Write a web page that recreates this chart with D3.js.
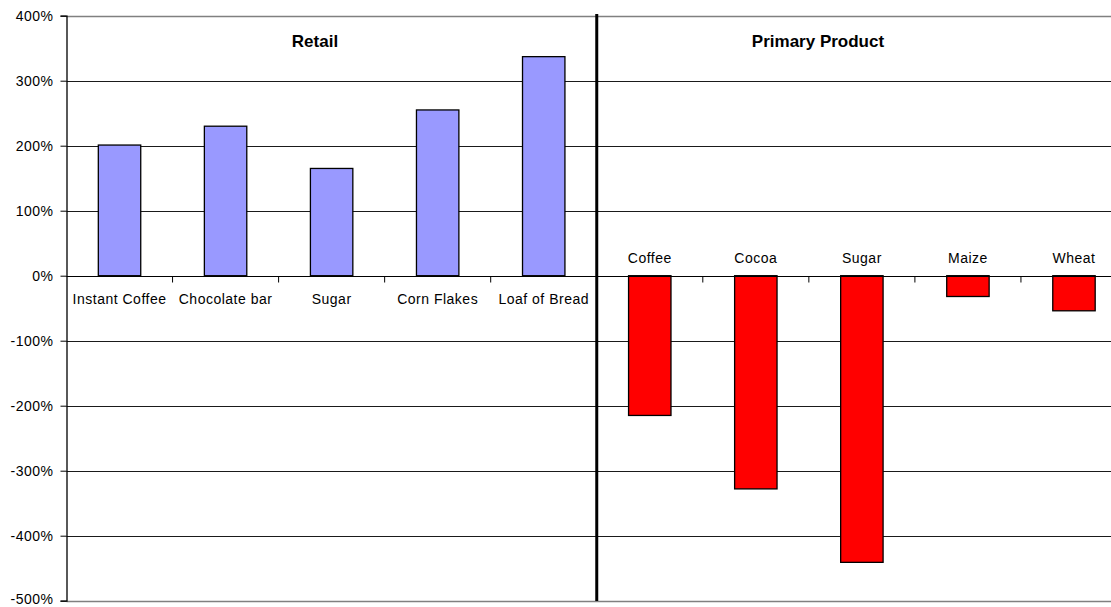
<!DOCTYPE html>
<html>
<head>
<meta charset="utf-8">
<script src="https://cdn.jsdelivr.net/npm/d3@7"></script>
<style>
  html, body { margin: 0; padding: 0; background: #fff; }
  svg { display: block; }
  text { font-family: "Liberation Sans", Arial, sans-serif; fill: #000; }
</style>
</head>
<body>
<svg id="chart" width="1111" height="607"></svg>
<script>
// ---- data ----
const retailCategories = ["Instant Coffee", "Chocolate bar", "Sugar", "Corn Flakes", "Loaf of Bread"];
const retailValues = [2.01, 2.30, 1.65, 2.55, 3.37];
const primaryCategories = ["Coffee", "Cocoa", "Sugar", "Maize", "Wheat"];
const primaryValues = [-2.15, -3.28, -4.41, -0.32, -0.54];
const groupTitles = ["Retail", "Primary Product"];
const yTicks = [4, 3, 2, 1, 0, -1, -2, -3, -4, -5];

// ---- build rows ----
const rows = [];
retailCategories.forEach((c, i) => rows.push({key: "r" + i, label: c, value: retailValues[i], group: 0}));
primaryCategories.forEach((c, i) => rows.push({key: "p" + i, label: c, value: primaryValues[i], group: 1}));

const svg = d3.select("#chart");
const x0 = 66.5, step = 106.05;
const x = d3.scaleBand()
  .domain(rows.map(d => d.key))
  .range([x0, x0 + step * rows.length])
  .paddingInner(0.6).paddingOuter(0.3);
const y = d3.scaleLinear().domain([-5, 4]).range([600.7, 15.7]);
const xRight = 1111;

// gridlines
svg.append("g").selectAll("line").data(yTicks).join("line")
  .attr("x1", x0).attr("x2", xRight)
  .attr("y1", d => Math.round(y(d)) + 0.5).attr("y2", d => Math.round(y(d)) + 0.5)
  .attr("stroke", d => (d === 4 || d === -5) ? "#808080" : "#1a1a1a")
  .attr("stroke-width", d => (d === 4 || d === -5) ? 1.5 : 1.2);

// y axis
const yAxis = d3.axisLeft(y).tickValues(yTicks).tickSize(6).tickPadding(7)
  .tickFormat(d => Math.round(d * 100) + "%");
const ya = svg.append("g").attr("transform", `translate(${x0},0)`).call(yAxis);
ya.select(".domain").attr("stroke", "#000").attr("stroke-width", 1.3);
ya.selectAll(".tick line").attr("stroke", "#000");
ya.selectAll(".tick text").attr("font-size", "14px").style("letter-spacing", "0.5px")
  .attr("font-family", "Liberation Sans, Arial, sans-serif")
  .attr("dy", d => d === -5 ? "0.2em" : "0.32em");

// bars
svg.append("g").selectAll("rect").data(rows).join("rect")
  .attr("x", d => x(d.key))
  .attr("width", x.bandwidth())
  .attr("y", d => y(Math.max(0, d.value)))
  .attr("height", d => Math.abs(y(d.value) - y(0)))
  .attr("fill", d => d.group === 0 ? "#9999FF" : "#FF0000")
  .attr("stroke", "#000").attr("stroke-width", 1.3);

// zero axis with category ticks
const zy = Math.round(y(0)) + 0.5;
svg.append("line").attr("x1", x0).attr("x2", xRight).attr("y1", zy).attr("y2", zy)
  .attr("stroke", "#000").attr("stroke-width", 1.2);
const boundaries = d3.range(1, rows.length).map(i => x0 + i * step);
svg.append("g").selectAll("line").data(boundaries).join("line")
  .attr("x1", d => d).attr("x2", d => d)
  .attr("y1", zy).attr("y2", zy + 6)
  .attr("stroke", "#000");

// category labels
svg.append("g").selectAll("text").data(rows).join("text")
  .attr("x", d => x(d.key) + x.bandwidth() / 2)
  .attr("y", d => d.group === 0 ? 304 : 263)
  .attr("text-anchor", "middle")
  .attr("font-size", "14px").style("letter-spacing", "0.5px")
  .text(d => d.label);

// divider
const divX = x0 + 5 * step;
svg.append("line").attr("x1", divX).attr("x2", divX).attr("y1", 14).attr("y2", 601)
  .attr("stroke", "#000").attr("stroke-width", 3);

// group titles
const titleX = [315, 818];
svg.append("g").selectAll("text").data(groupTitles).join("text")
  .attr("x", (d, i) => titleX[i]).attr("y", 47)
  .attr("text-anchor", "middle")
  .attr("font-size", "17px").attr("font-weight", "bold")
  .text(d => d);
</script>
</body>
</html>
